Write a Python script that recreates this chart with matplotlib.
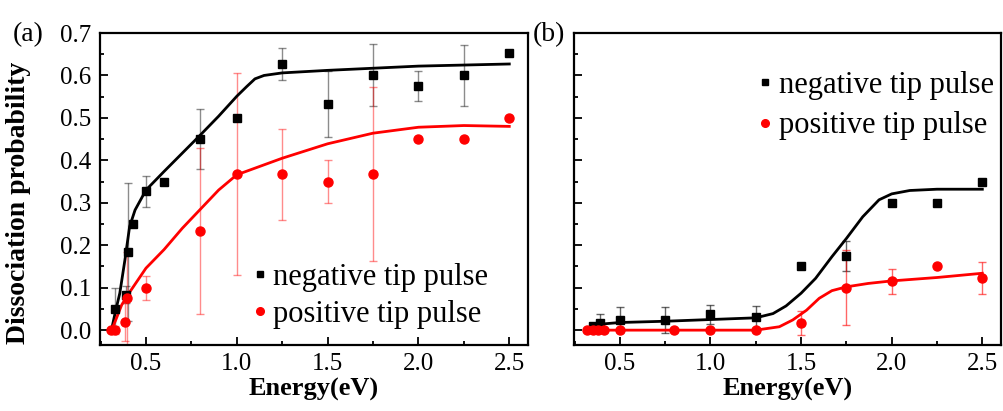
import matplotlib
matplotlib.use("Agg")
import matplotlib.pyplot as plt
from matplotlib.ticker import MultipleLocator
from matplotlib.lines import Line2D

plt.rcParams['font.family'] = ['Liberation Serif', 'DejaVu Serif']

# ---------------- data: panel (a) ----------------
neg_a_x = [0.33, 0.39, 0.40, 0.43, 0.5, 0.6, 0.8, 1.0, 1.25, 1.5, 1.75, 2.0, 2.25, 2.5]
neg_a_y = [0.05, 0.083, 0.184, 0.25, 0.327, 0.35, 0.45, 0.50, 0.627, 0.533, 0.60, 0.575, 0.60, 0.652]
neg_a_err = [0.05, 0.02, 0.163, 0.0, 0.036, 0.0, 0.07, 0.0, 0.037, 0.078, 0.073, 0.036, 0.072, 0.0]

pos_a_x = [0.31, 0.33, 0.385, 0.395, 0.5, 0.8, 1.0, 1.25, 1.5, 1.75, 2.0, 2.25, 2.5]
pos_a_y = [0.0, 0.0, 0.019, 0.075, 0.10, 0.233, 0.367, 0.367, 0.35, 0.367, 0.45, 0.45, 0.50]
pos_a_err = [0.0, 0.01, 0.045, 0.11, 0.028, 0.195, 0.238, 0.107, 0.05, 0.205, 0.0, 0.0, 0.0]

fit_neg_a_x = [0.31, 0.33, 0.356, 0.384, 0.41, 0.44, 0.5, 0.6, 0.7, 0.8, 0.9, 1.0,
               1.055, 1.10, 1.15, 1.25, 1.5, 2.0, 2.5]
fit_neg_a_y = [0.0, 0.04, 0.087, 0.165, 0.244, 0.283, 0.33, 0.374, 0.417, 0.46, 0.504, 0.551,
               0.574, 0.592, 0.600, 0.606, 0.612, 0.622, 0.627]

fit_pos_a_x = [0.31, 0.33, 0.366, 0.40, 0.5, 0.6, 0.7, 0.8, 0.9, 1.0, 1.25, 1.5, 1.75, 2.0, 2.25, 2.5]
fit_pos_a_y = [0.0, 0.02, 0.059, 0.083, 0.146, 0.19, 0.24, 0.285, 0.33, 0.366, 0.405, 0.439,
               0.464, 0.478, 0.482, 0.480]

# ---------------- data: panel (b) ----------------
neg_b_x = [0.35, 0.39, 0.5, 0.75, 1.0, 1.25, 1.5, 1.75, 2.0, 2.25, 2.5]
neg_b_y = [0.01, 0.016, 0.025, 0.024, 0.037, 0.032, 0.15, 0.175, 0.30, 0.30, 0.35]
neg_b_err = [0.0, 0.022, 0.03, 0.03, 0.023, 0.026, 0.0, 0.035, 0.0, 0.0, 0.0]

pos_b_x = [0.32, 0.35, 0.38, 0.41, 0.5, 0.8, 1.0, 1.25, 1.5, 1.75, 2.0, 2.25, 2.5]
pos_b_y = [0.0, 0.0, 0.0, 0.0, 0.0, 0.0, 0.0, 0.0, 0.017, 0.10, 0.115, 0.15, 0.123]
pos_b_err = [0.0, 0.0, 0.0, 0.0, 0.0, 0.0, 0.0, 0.0, 0.028, 0.088, 0.03, 0.0, 0.037]

fit_neg_b_x = [0.317, 0.353, 0.39, 0.5, 0.753, 1.0, 1.25, 1.345, 1.417, 1.50, 1.58, 1.67,
               1.75, 1.84, 1.93, 2.0, 2.1, 2.25, 2.5]
fit_neg_b_y = [0.0, 0.008, 0.014, 0.018, 0.021, 0.025, 0.029, 0.039, 0.057, 0.087, 0.122, 0.173,
               0.216, 0.267, 0.307, 0.321, 0.329, 0.332, 0.332]

fit_pos_b_x = [0.317, 1.25, 1.38, 1.454, 1.53, 1.60, 1.67, 1.75, 1.87, 2.0, 2.25, 2.5]
fit_pos_b_y = [0.0, 0.0, 0.008, 0.024, 0.047, 0.075, 0.093, 0.102, 0.11, 0.116, 0.124, 0.134]

legend_labels = ["negative tip pulse", "positive tip pulse"]
panel_labels = ["(a)", "(b)"]
x_ticks = [0.5, 1.0, 1.5, 2.0, 2.5]
y_ticks = [0.0, 0.1, 0.2, 0.3, 0.4, 0.5, 0.6, 0.7]

BLACK = "#000000"
RED = "#ff0000"

fig = plt.figure(figsize=(10.04, 4.11), dpi=100)
W, H = 1004, 411
ax1 = fig.add_axes([100 / W, 1 - 345 / H, (528 - 100) / W, (345 - 33) / H])
ax2 = fig.add_axes([574 / W, 1 - 345 / H, (1001 - 574) / W, (345 - 33) / H])


def style(ax, show_ylabels):
    ax.set_xlim(0.247, 2.603)
    ax.set_ylim(-0.035, 0.7)
    ax.set_xticks(x_ticks)
    ax.set_xticklabels([f"{v:.1f}" for v in x_ticks])
    ax.set_yticks(y_ticks)
    if show_ylabels:
        ax.set_yticklabels([f"{v:.1f}" for v in y_ticks])
    else:
        ax.set_yticklabels([])
    ax.xaxis.set_minor_locator(MultipleLocator(0.25))
    ax.yaxis.set_minor_locator(MultipleLocator(0.05))
    ax.tick_params(which='both', direction='in', top=False, right=False, width=1.3)
    ax.tick_params(which='major', length=6, labelsize=18, pad=6)
    ax.tick_params(which='minor', length=3)
    for s in ax.spines.values():
        s.set_linewidth(1.6)
    ax.set_xlabel("Energy(eV)", fontsize=19, fontweight='bold', labelpad=2)


def draw(ax, nx, ny, ne, px, py, pe, fnx, fny, fpx, fpy, ealpha_k, ealpha_r):
    ax.errorbar(nx, ny, yerr=ne, fmt='none', ecolor=BLACK, alpha=ealpha_k,
                elinewidth=1.0, capsize=3, capthick=1.0, zorder=2)
    ax.errorbar(px, py, yerr=pe, fmt='none', ecolor=RED, alpha=ealpha_r,
                elinewidth=1.0, capsize=3, capthick=1.0, zorder=2)
    ax.plot(fnx, fny, color=BLACK, lw=2.0, zorder=3)
    ax.plot(fpx, fpy, color=RED, lw=2.0, zorder=3)
    ax.plot(nx, ny, ls='none', marker='s', ms=6, color=BLACK, zorder=4)
    ax.plot(px, py, ls='none', marker='o', ms=6.5, color=RED, zorder=4)


draw(ax1, neg_a_x, neg_a_y, neg_a_err, pos_a_x, pos_a_y, pos_a_err,
     fit_neg_a_x, fit_neg_a_y, fit_pos_a_x, fit_pos_a_y, 0.45, 0.45)
draw(ax2, neg_b_x, neg_b_y, neg_b_err, pos_b_x, pos_b_y, pos_b_err,
     fit_neg_b_x, fit_neg_b_y, fit_pos_b_x, fit_pos_b_y, 0.6, 0.6)

style(ax1, True)
style(ax2, False)
ax1.set_ylabel("Dissociation probability", fontsize=20, fontweight='bold')
ax1.yaxis.set_label_coords(-0.162, 0.455)

handles = [Line2D([], [], ls='none', marker='s', ms=5, color=BLACK),
           Line2D([], [], ls='none', marker='o', ms=5.5, color=RED)]
leg_kw = dict(frameon=False, fontsize=22, handlelength=0.5, handletextpad=0.2,
              borderpad=0, borderaxespad=0)
ax1.legend(handles, legend_labels, loc='upper left', bbox_to_anchor=(0.355, 0.263),
           labelspacing=0.25, **leg_kw)
ax2.legend(handles, legend_labels, loc='upper left', bbox_to_anchor=(0.43, 0.879),
           labelspacing=0.38, **leg_kw)

fig.text(13 / W, 1 - 35 / H, panel_labels[0], fontsize=20, va='center', ha='left')
fig.text(533 / W, 1 - 35 / H, panel_labels[1], fontsize=20, va='center', ha='left')

fig.savefig("out.png", dpi=100)
